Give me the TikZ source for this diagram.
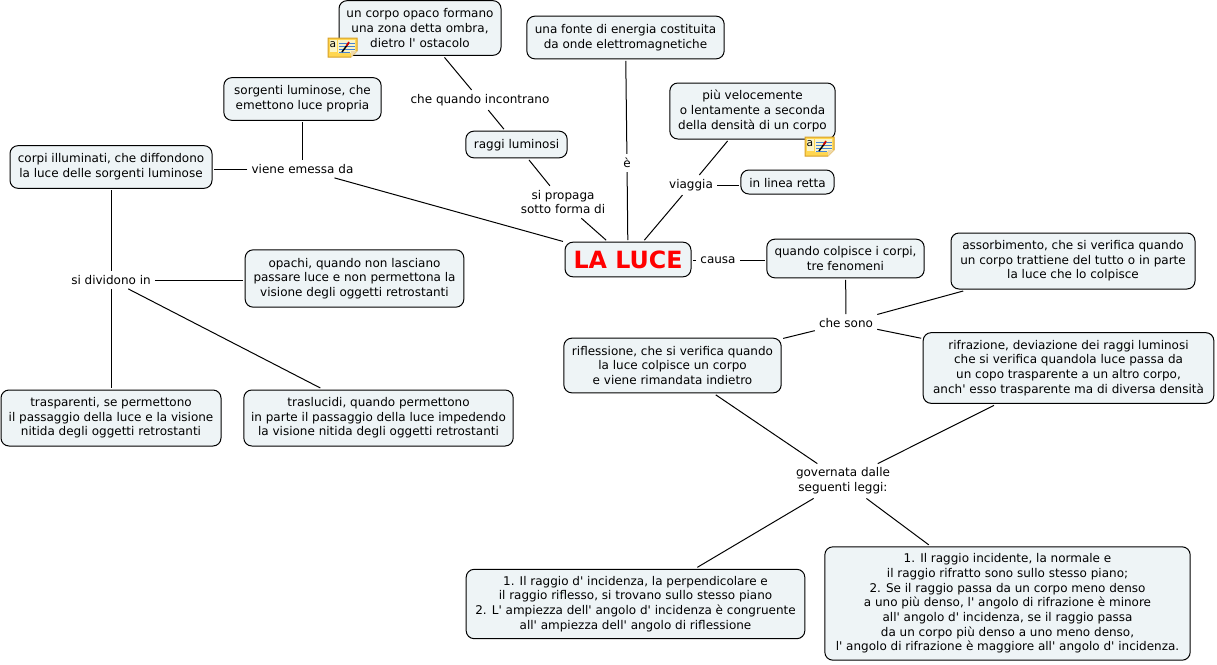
\documentclass[tikz,border=0pt]{standalone}
\usepackage{fontspec}
\setmainfont[Ligatures=TeXOff]{DejaVu Sans}
\usepackage{tikz}
\definecolor{boxfill}{RGB}{238,244,246}
\definecolor{noteyellow}{RGB}{255,214,80}
\definecolor{noteedge}{RGB}{214,160,40}
\definecolor{notepage}{RGB}{250,244,200}
\definecolor{notelines}{RGB}{70,130,210}
\newcommand{\noteicon}[2]{%
  \begin{scope}[shift={(#1,#2)}]
    \draw [noteedge,fill=noteyellow,line width=0.75pt] (0,0) -- (29,0) -- (29,13) -- (23,19) -- (0,19) -- cycle ;
    \fill [notepage] (2,2) -- (9,2) -- (9,14) -- (2,14) -- cycle ;
    \fill [notepage] (10,2) -- (27,2) -- (27,13) -- (22,15) -- (10,15) -- cycle ;
    \fill [white!60!noteedge] (23,19) -- (23,13) -- (29,13) -- cycle ;
    \draw [notelines,line width=0.75pt] (11,5) -- (27,5) (11,8) -- (27,8) (11,11) -- (27,11) (11,14) -- (22,14) ;
    \draw [black,line width=1.1pt] (14,14) -- (20,6) ;
    \draw [red!80!black,line width=1.3pt] (18.5,8) -- (21,4) ;
    \node (#1a) [inner sep=0pt,font=\fontsize{8}{8}\selectfont] at (5,7) {a};
  \end{scope}}
\tikzset{
  concept/.style={draw,fill=boxfill,rounded corners=6pt,line width=0.75pt,align=center,inner sep=0pt,outer sep=1.5pt,font=\fontsize{9}{11}\selectfont,execute at begin node={\rule{0pt}{8.3pt}}},
  linklabel/.style={align=center,inner xsep=3pt,inner ysep=3pt,font=\fontsize{9}{11}\selectfont},
  link/.style={line width=0.75pt}
}
\begin{document}
\begin{tikzpicture}[x=0.75pt,y=0.75pt,yscale=-1,xscale=1]
\useasboundingbox (0,0) rectangle (1217,664);

% Concepts
\node (opaco) [concept,minimum width=121.5pt,minimum height=41pt] at (420,28) {un corpo opaco formano\\una zona detta ombra,\\dietro l' ostacolo};
\node (fonte) [concept,minimum width=148pt,minimum height=32pt] at (625.5,37.5) {una fonte di energia costituita\\da onde elettromagnetiche};
\node (sorgenti) [concept,minimum width=118pt,minimum height=32pt] at (302.5,99) {sorgenti luminose, che\\emettono luce propria};
\node (raggi) [concept,minimum width=76pt,minimum height=20pt] at (516.5,144.5) {raggi luminosi};
\node (velocita) [concept,minimum width=124pt,minimum height=42pt] at (752.5,111) {più velocemente\\o lentamente a seconda\\della densità di un corpo};
\node (retta) [concept,minimum width=70pt,minimum height=18pt] at (787.5,182) {in linea retta};
\node (illuminati) [concept,minimum width=151.5pt,minimum height=32pt] at (111,167) {corpi illuminati, che diffondono\\la luce delle sorgenti luminose};
\node (luce) [concept,minimum width=94.5pt,minimum height=26pt,text=red,font=\fontsize{17.8}{20}\bfseries\selectfont] at (628,259.5) {LA LUCE};
\node (fenomeni) [concept,minimum width=118pt,minimum height=29pt] at (845.5,258.5) {quando colpisce i corpi,\\tre fenomeni};
\node (assorbimento) [concept,minimum width=183pt,minimum height=42pt] at (1073,261) {assorbimento, che si verifica quando\\un corpo trattiene del tutto o in parte\\la luce che lo colpisce};
\node (opachi) [concept,minimum width=164pt,minimum height=43pt] at (354.5,278.5) {opachi, quando non lasciano\\passare luce e non permettona la\\visione degli oggetti retrostanti};
\node (riflessione) [concept,minimum width=163pt,minimum height=41pt] at (672.5,365.5) {riflessione, che si verifica quando\\la luce colpisce un corpo\\e viene rimandata indietro};
\node (rifrazione) [concept,minimum width=218pt,minimum height=53pt] at (1068.5,368) {rifrazione, deviazione dei raggi luminosi\\che si verifica quandola luce passa da\\un copo trasparente a un altro corpo,\\anch' esso trasparente ma di diversa densità};
\node (trasparenti) [concept,minimum width=165pt,minimum height=42pt] at (111,418) {trasparenti, se permettono\\il passaggio della luce e la visione\\nitida degli oggetti retrostanti};
\node (traslucidi) [concept,minimum width=202pt,minimum height=42pt] at (378.5,418) {traslucidi, quando permettono\\in parte il passaggio della luce impedendo\\la visione nitida degli oggetti retrostanti};
\node (leggeA) [concept,minimum width=254pt,minimum height=52pt] at (635.5,604) {1. Il raggio d' incidenza, la perpendicolare e\\il raggio riflesso, si trovano sullo stesso piano\\2. L' ampiezza dell' angolo d' incidenza è congruente\\all' ampiezza dell' angolo di riflessione};
\node (leggeB) [concept,minimum width=274pt,minimum height=85pt] at (1007.5,603.5) {1. Il raggio incidente, la normale e\\il raggio rifratto sono sullo stesso piano;\\2. Se il raggio passa da un corpo meno denso\\a uno più denso, l' angolo di rifrazione è minore\\all' angolo d' incidenza, se il raggio passa\\da un corpo più denso a uno meno denso,\\l' angolo di rifrazione è maggiore all' angolo d' incidenza.};

% Link labels
\node (incontrano) [linklabel] at (480,100) {che quando incontrano};
\node (propaga) [linklabel] at (563,202) {si propaga\\sotto forma di};
\node (emessa) [linklabel] at (302.5,169) {viene emessa da};
\node (e) [linklabel] at (627,163) {è};
\node (viaggia) [linklabel] at (691,185) {viaggia};
\node (causa) [linklabel] at (718,260) {causa};
\node (sono) [linklabel] at (846,323) {che sono};
\node (dividono) [linklabel] at (111,280) {si dividono in};
\node (governata) [linklabel] at (843,481) {governata dalle\\seguenti leggi:};

% Connectors
\draw [link] (opaco) -- (incontrano) ;
\draw [link] (incontrano) -- (raggi) ;
\draw [link] (raggi) -- (propaga) ;
\draw [link] (propaga) -- (luce) ;
\draw [link] (fonte) -- (e) ;
\draw [link] (e) -- (luce) ;
\draw [link] (velocita) -- (viaggia) ;
\draw [link] (viaggia) -- (luce) ;
\draw [link] (viaggia.east) -- (viaggia.east -| retta.west) ;
\draw [link] (sorgenti) -- (emessa) ;
\draw [link] (emessa.west) -- (emessa.west -| illuminati.east) ;
\draw [link] (emessa) -- (luce) ;
\draw [link] (causa.west) -- (causa.west -| luce.east) ;
\draw [link] (causa.east) -- (causa.east -| fenomeni.west) ;
\draw [link] (fenomeni) -- (sono) ;
\draw [link] (sono) -- (assorbimento) ;
\draw [link] (sono) -- (riflessione) ;
\draw [link] (sono) -- (rifrazione) ;
\draw [link] (riflessione) -- (governata) ;
\draw [link] (rifrazione) -- (governata) ;
\draw [link] (governata) -- (leggeA) ;
\draw [link] (governata) -- (leggeB) ;
\draw [link] (illuminati) -- (dividono) ;
\draw [link] (dividono.east) -- (dividono.east -| opachi.west) ;
\draw [link] (dividono) -- (trasparenti) ;
\draw [link] (dividono) -- (traslucidi) ;

% Note icons
\noteicon{328}{38}
\noteicon{805}{137}

\end{tikzpicture}
\end{document}
